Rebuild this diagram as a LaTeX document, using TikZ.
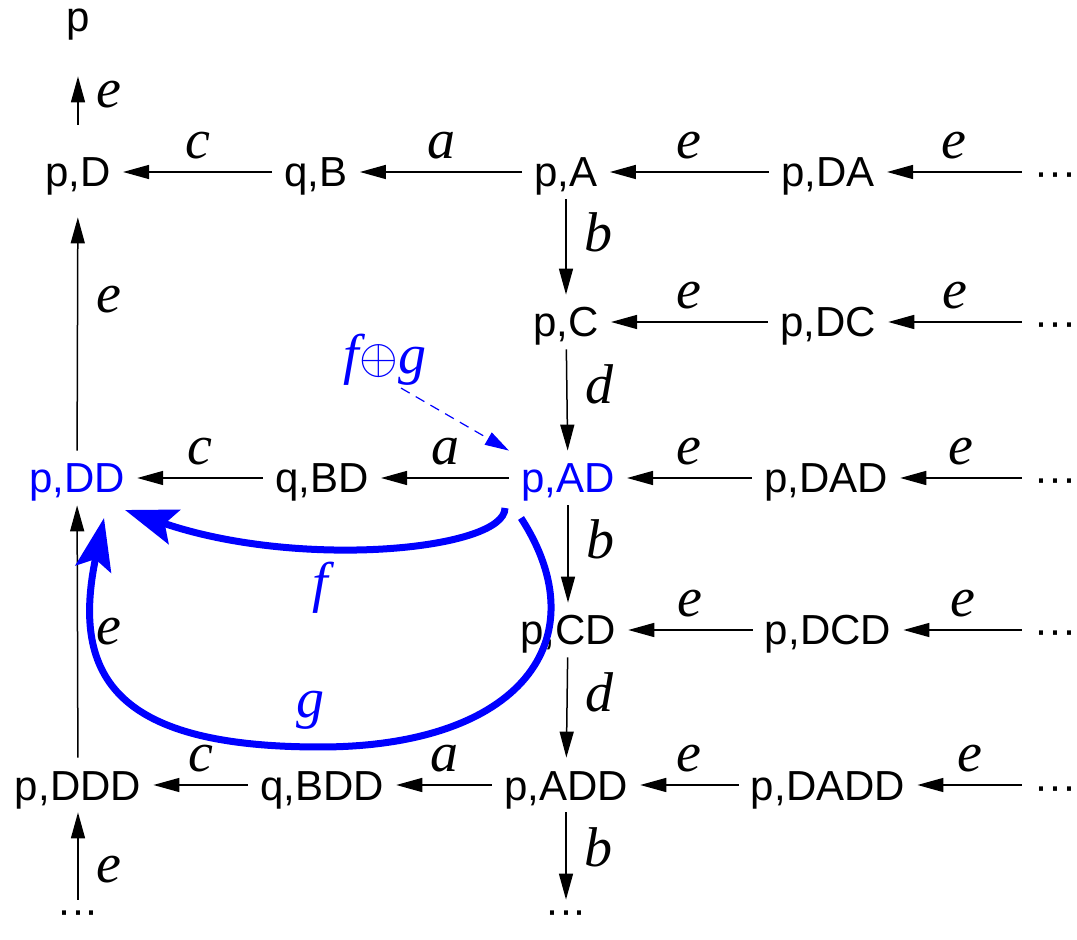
\documentclass[tikz,border=0pt]{standalone}
\usepackage{fontspec}
\setmainfont{Liberation Sans}
\newfontfamily\lblfont{Liberation Serif}
\usepackage{tikz}
\usetikzlibrary{arrows.meta,positioning,calc}
\definecolor{hlblue}{RGB}{0,0,255}
\tikzset{
  statenode/.style={
    text=#1, font=\fontsize{21}{25}\selectfont,
    text height=15pt, text depth=0pt, inner sep=6pt
  },
  statenode/.default=black,
  edgelabel/.style={
    text=#1, font=\fontsize{28}{32}\selectfont\lblfont\itshape,
    inner sep=1pt
  },
  edgelabel/.default=black,
  edgearrow/.style={
    -{Triangle[length=13pt,width=7pt]}, line width=0.75pt
  },
  pathmap/.style={
    -{Stealth[length=26pt,width=18pt,inset=5pt]}, line width=3.5pt,
    color=hlblue
  },
  hintarrow/.style={
    -{Triangle[length=12pt,width=7pt]}, line width=0.6pt, color=hlblue,
    dash pattern=on 5pt off 3.5pt
  },
}

\begin{document}
\begin{tikzpicture}[x=0.5pt,y=-0.5pt]
  \useasboundingbox (0,0) rectangle (1077,940);

  % states
  \node[statenode] (p) at (78,17) {p};
  \node[statenode] (pD) at (78,172) {p,D};
  \node[statenode] (qB) at (316,172) {q,B};
  \node[statenode] (pA) at (566,172) {p,A};
  \node[statenode] (pDA) at (828,172) {p,DA};
  \node[statenode] (dA) at (1055,172) {···};
  \node[statenode] (pC) at (566,322) {p,C};
  \node[statenode] (pDC) at (828,322) {p,DC};
  \node[statenode] (dC) at (1055,322) {···};
  \node[statenode=hlblue] (pDD) at (77,478) {p,DD};
  \node[statenode] (qBD) at (322,478) {q,BD};
  \node[statenode=hlblue] (pAD) at (568,478) {p,AD};
  \node[statenode] (pDAD) at (826,478) {p,DAD};
  \node[statenode] (dAD) at (1055,478) {···};
  \node[statenode] (pCD) at (568,630) {p,CD};
  \node[statenode] (pDCD) at (828,630) {p,DCD};
  \node[statenode] (dCD) at (1055,630) {···};
  \node[statenode] (pDDD) at (78,785) {p,DDD};
  \node[statenode] (qBDD) at (322,785) {q,BDD};
  \node[statenode] (pADD) at (566,785) {p,ADD};
  \node[statenode] (pDADD) at (828,785) {p,DADD};
  \node[statenode] (dADD) at (1055,785) {···};
  \node[statenode, text height=6pt] (dDDD) at (78,918) {···};
  \node[statenode, text height=6pt] (dBDD) at (566,918) {···};

  % rows
  \draw[edgearrow] (qB) -- node[edgelabel, above=5pt] {c} (pD);
  \draw[edgearrow] (pA) -- node[edgelabel, above=5pt] {a} (qB);
  \draw[edgearrow] (pDA) -- node[edgelabel, above=5pt] {e} (pA);
  \draw[edgearrow] (dA) -- node[edgelabel, above=5pt] {e} (pDA);
  \draw[edgearrow] (pDC) -- node[edgelabel, above=5pt] {e} (pC);
  \draw[edgearrow] (dC) -- node[edgelabel, above=5pt] {e} (pDC);
  \draw[edgearrow] (qBD) -- node[edgelabel, above=5pt] {c} (pDD);
  \draw[edgearrow] (pAD) -- node[edgelabel, above=5pt] {a} (qBD);
  \draw[edgearrow] (pDAD) -- node[edgelabel, above=5pt] {e} (pAD);
  \draw[edgearrow] (dAD) -- node[edgelabel, above=5pt] {e} (pDAD);
  \draw[edgearrow] (pDCD) -- node[edgelabel, above=5pt] {e} (pCD);
  \draw[edgearrow] (dCD) -- node[edgelabel, above=5pt] {e} (pDCD);
  \draw[edgearrow] (qBDD) -- node[edgelabel, above=5pt] {c} (pDDD);
  \draw[edgearrow] (pADD) -- node[edgelabel, above=5pt] {a} (qBDD);
  \draw[edgearrow] (pDADD) -- node[edgelabel, above=5pt] {e} (pADD);
  \draw[edgearrow] (dADD) -- node[edgelabel, above=5pt] {e} (pDADD);

  % columns
  \draw[edgearrow, shorten <=10pt, shorten >=16pt] (pD) --
    node[edgelabel, right=8pt] {e} (p);
  \draw[edgearrow, shorten >=9pt] (pDD) --
    node[edgelabel, right=8pt, pos=0.6] {e} (pD);
  \draw[edgearrow] (pDDD) -- node[edgelabel, right=8pt] {e} (pDD);
  \draw[edgearrow] (dDDD) -- node[edgelabel, right=8pt, pos=0.35] {e} (pDDD);
  \draw[edgearrow] (pA) -- node[edgelabel, right=8pt, pos=0.35] {b} (pC);
  \draw[edgearrow] (pC) -- node[edgelabel, right=8pt, pos=0.35] {d} (pAD);
  \draw[edgearrow] (pAD) -- node[edgelabel, right=8pt, pos=0.35] {b} (pCD);
  \draw[edgearrow] (pCD) -- node[edgelabel, right=8pt, pos=0.35] {d} (pADD);
  \draw[edgearrow] (pADD) -- node[edgelabel, right=8pt, pos=0.4] {b} (dBDD);

  % the two paths and their sum
  \draw[pathmap] ($(pAD)+(-63,30)$) .. controls (505,550) and (300,570)
    .. ($(pDD)+(48,32)$);
  \draw[pathmap] ($(pAD)+(-47,40)$) .. controls (600,640) and (520,747)
    .. (320,747) .. controls (120,747) and (70,680) .. ($(pDD)+(27,40)$);
  \node[edgelabel=hlblue] (f) at (320,588) {f};
  \node[edgelabel=hlblue] (g) at (310,710) {g};
  \node[edgelabel=hlblue] (fg) at (385,360) {f$\oplus$g};
  \draw[hintarrow] ([xshift=8pt]fg.south) -- (pAD.north west);
\end{tikzpicture}
\end{document}
